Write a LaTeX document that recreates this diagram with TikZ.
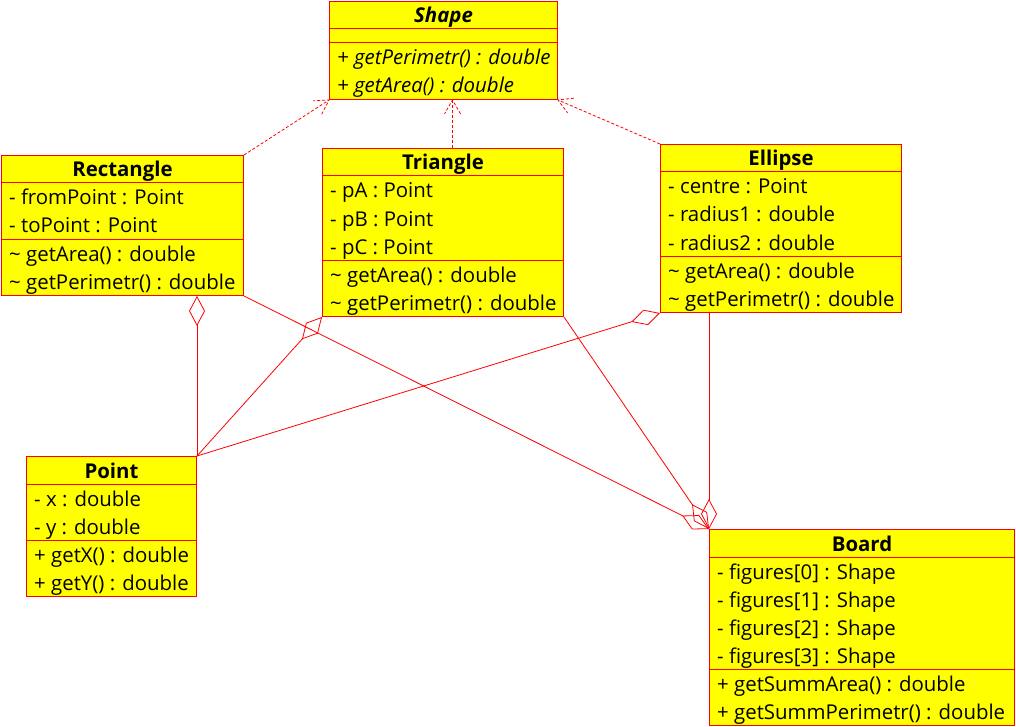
\documentclass[tikz,border=0pt]{standalone}
\usepackage{fontspec}
\setmainfont{Open Sans}
\usetikzlibrary{arrows.meta,calc}

\definecolor{umlred}{HTML}{FF0000}
\definecolor{umlyellow}{HTML}{FFFF00}
\newcommand\memfont{\fontsize{20.4}{24}\selectfont}

% dashed realization line with a dashed open arrowhead at the target
\newcommand\realizeline[2]{%
  \draw[realize] (#1) -- (#2);
  \draw[realize] ($(#2)!16pt!30:(#1)$) -- (#2) -- ($(#2)!16pt!-30:(#1)$);
}

\begin{document}
\begin{tikzpicture}[x=1pt,y=-1pt,
  box/.style={draw=umlred, fill=umlyellow, line width=1pt, rectangle,
    anchor=north west, inner sep=0pt},
  sep/.style={draw=umlred, line width=1pt},
  title/.style={anchor=base, inner sep=0pt, font=\memfont\bfseries},
  member/.style={anchor=base west, inner sep=0pt, font=\memfont},
  realize/.style={draw=umlred, line width=0.8pt, dash pattern=on 3pt off 2pt},
  aggr/.style={draw=umlred, line width=0.8pt,
    -{Diamond[open,length=30pt,width=16pt,line width=0.8pt]}},
]
\useasboundingbox (0,0) rectangle (1016,727);
\fill[white] (0,0) rectangle (1016,727);

% ---- Shape (abstract) ----
\node[box, minimum width=228pt, minimum height=98pt] (shape) at (329,1) {};
\draw[sep] ([shift={(0,28)}]shape.north west) -- ([shift={(0,28)}]shape.north east);
\draw[sep] ([shift={(0,42)}]shape.north west) -- ([shift={(0,42)}]shape.north east);
\node[title, font=\memfont\bfseries\itshape] at ([shift={(0,22)}]shape.north) {Shape};
\node[member, font=\memfont\itshape] at ([shift={(8,64)}]shape.north west) {+ getPerimetr() : double};
\node[member, font=\memfont\itshape] at ([shift={(8,92)}]shape.north west) {+ getArea() : double};

% ---- Rectangle ----
\node[box, minimum width=242pt, minimum height=140pt] (rect) at (1,155) {};
\draw[sep] ([shift={(0,28)}]rect.north west) -- ([shift={(0,28)}]rect.north east);
\draw[sep] ([shift={(0,84)}]rect.north west) -- ([shift={(0,84)}]rect.north east);
\node[title] at ([shift={(0,22)}]rect.north) {Rectangle};
\node[member] at ([shift={(8,50)}]rect.north west) {- fromPoint : Point};
\node[member] at ([shift={(8,78)}]rect.north west) {- toPoint : Point};
\node[member] at ([shift={(8,106)}]rect.north west) {\textasciitilde{} getArea() : double};
\node[member] at ([shift={(8,134)}]rect.north west) {\textasciitilde{} getPerimetr() : double};

% ---- Triangle ----
\node[box, minimum width=241pt, minimum height=168pt] (tri) at (322,148) {};
\draw[sep] ([shift={(0,28)}]tri.north west) -- ([shift={(0,28)}]tri.north east);
\draw[sep] ([shift={(0,112)}]tri.north west) -- ([shift={(0,112)}]tri.north east);
\node[title] at ([shift={(0,22)}]tri.north) {Triangle};
\node[member] at ([shift={(8,50)}]tri.north west) {- pA : Point};
\node[member] at ([shift={(8,78)}]tri.north west) {- pB : Point};
\node[member] at ([shift={(8,106)}]tri.north west) {- pC : Point};
\node[member] at ([shift={(8,134)}]tri.north west) {\textasciitilde{} getArea() : double};
\node[member] at ([shift={(8,162)}]tri.north west) {\textasciitilde{} getPerimetr() : double};

% ---- Ellipse ----
\node[box, minimum width=241pt, minimum height=168pt] (ell) at (660,144) {};
\draw[sep] ([shift={(0,28)}]ell.north west) -- ([shift={(0,28)}]ell.north east);
\draw[sep] ([shift={(0,112)}]ell.north west) -- ([shift={(0,112)}]ell.north east);
\node[title] at ([shift={(0,22)}]ell.north) {Ellipse};
\node[member] at ([shift={(8,50)}]ell.north west) {- centre : Point};
\node[member] at ([shift={(8,78)}]ell.north west) {- radius1 : double};
\node[member] at ([shift={(8,106)}]ell.north west) {- radius2 : double};
\node[member] at ([shift={(8,134)}]ell.north west) {\textasciitilde{} getArea() : double};
\node[member] at ([shift={(8,162)}]ell.north west) {\textasciitilde{} getPerimetr() : double};

% ---- Point ----
\node[box, minimum width=170pt, minimum height=140pt] (pt) at (26,456) {};
\draw[sep] ([shift={(0,28)}]pt.north west) -- ([shift={(0,28)}]pt.north east);
\draw[sep] ([shift={(0,84)}]pt.north west) -- ([shift={(0,84)}]pt.north east);
\node[title] at ([shift={(0,22)}]pt.north) {Point};
\node[member] at ([shift={(8,50)}]pt.north west) {- x : double};
\node[member] at ([shift={(8,78)}]pt.north west) {- y : double};
\node[member] at ([shift={(8,106)}]pt.north west) {+ getX() : double};
\node[member] at ([shift={(8,134)}]pt.north west) {+ getY() : double};

% ---- Board ----
\node[box, minimum width=305pt, minimum height=196pt] (board) at (709,529) {};
\draw[sep] ([shift={(0,28)}]board.north west) -- ([shift={(0,28)}]board.north east);
\draw[sep] ([shift={(0,140)}]board.north west) -- ([shift={(0,140)}]board.north east);
\node[title] at ([shift={(0,22)}]board.north) {Board};
\node[member] at ([shift={(8,50)}]board.north west) {- figures[0] : Shape};
\node[member] at ([shift={(8,78)}]board.north west) {- figures[1] : Shape};
\node[member] at ([shift={(8,106)}]board.north west) {- figures[2] : Shape};
\node[member] at ([shift={(8,134)}]board.north west) {- figures[3] : Shape};
\node[member] at ([shift={(8,162)}]board.north west) {+ getSummArea() : double};
\node[member] at ([shift={(8,190)}]board.north west) {+ getSummPerimetr() : double};

% ---- realization (implements Shape) ----
\coordinate (triTop) at ([shift={(9.5,0)}]tri.north);
\coordinate (shapeMid) at (triTop |- shape.south);
\realizeline{rect.north east}{shape.south west}
\realizeline{triTop}{shapeMid}
\realizeline{ell.north west}{shape.south east}

% ---- aggregation of Point ----
\coordinate (rectAgg) at (pt.north east |- rect.south);
\draw[aggr] (pt.north east) -- (rectAgg);
\draw[aggr] (pt.north east) -- (tri.south west);
\draw[aggr] (pt.north east) -- (ell.south west);

% ---- aggregation of shapes in Board ----
\coordinate (ellAgg) at (board.north west |- ell.south);
\draw[aggr] (rect.south east) -- (board.north west);
\draw[aggr] (tri.south east) -- (board.north west);
\draw[aggr] (ellAgg) -- (board.north west);
\end{tikzpicture}
\end{document}
